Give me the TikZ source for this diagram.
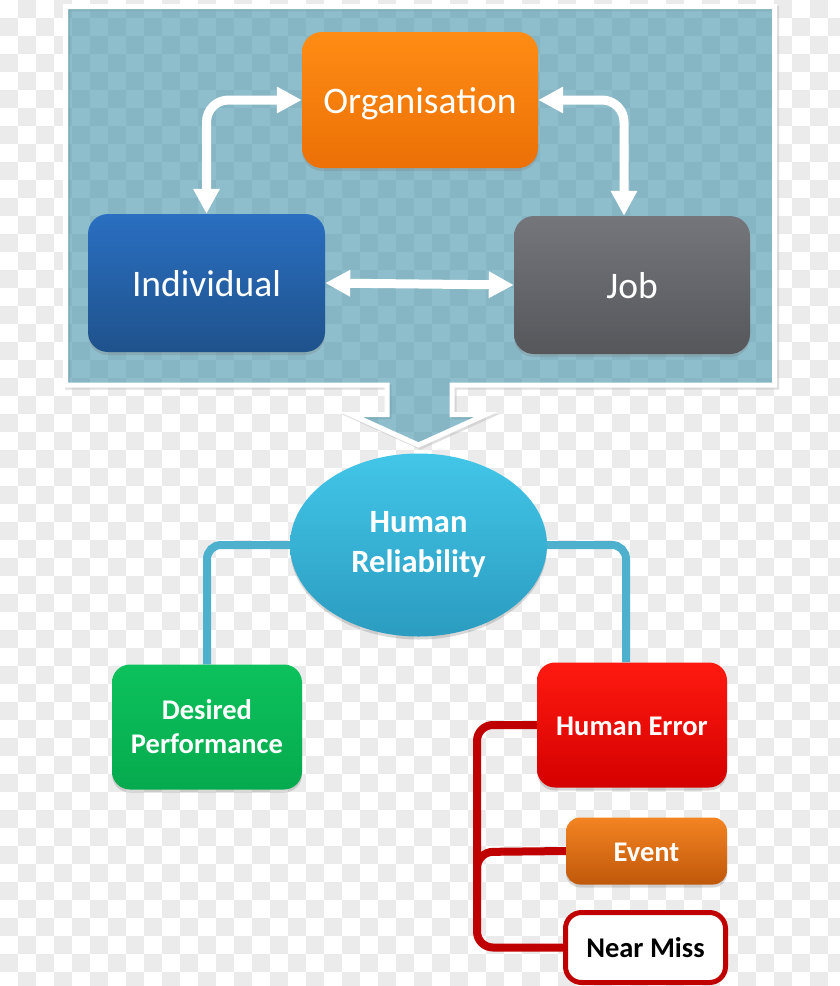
\documentclass[tikz,border=0pt]{standalone}
\usepackage{fontspec}
\setmainfont{Carlito}
\usetikzlibrary{arrows.meta,shadows,shapes.geometric,calc}
\pgfdeclarelayer{bg}
\pgfdeclarelayer{mid}
\pgfsetlayers{bg,mid,main}
\definecolor{checkgray}{HTML}{EBEBEB}
\definecolor{panelteal}{RGB}{68,148,170}
\definecolor{orgtop}{HTML}{FF8C14}
\definecolor{orgbot}{HTML}{EC7006}
\definecolor{indtop}{HTML}{2A6FC1}
\definecolor{indbot}{HTML}{1F528C}
\definecolor{jobtop}{HTML}{75767B}
\definecolor{jobbot}{HTML}{56575B}
\definecolor{hrtop}{HTML}{42C6E8}
\definecolor{hrbot}{HTML}{2B9CC0}
\definecolor{dptop}{HTML}{0CC25C}
\definecolor{dpbot}{HTML}{06AA4E}
\definecolor{hetop}{HTML}{FF1A10}
\definecolor{hebot}{HTML}{D40000}
\definecolor{evtop}{HTML}{F48422}
\definecolor{evbot}{HTML}{C0580A}
\definecolor{darkred}{HTML}{C00000}
\definecolor{linkteal}{HTML}{4DB1CD}
\tikzset{
  softshadow/.style={drop shadow={shadow xshift=0pt,shadow yshift=-3pt,opacity=0.3}},
  topbox/.style={rectangle,rounded corners=20pt,inner sep=0pt,text=white,
    text height=27pt,text depth=0pt,
    font=\fontsize{37.5}{40}\selectfont,softshadow},
  lowbox/.style={rectangle,rounded corners=18pt,inner sep=0pt,text=white,align=center,
    font=\bfseries\fontsize{28.5}{34}\selectfont,softshadow},
  oneline/.style={text height=20pt,text depth=0pt},
  whitearrow/.style={draw=white,line width=9pt,rounded corners=22pt,
    {Triangle[width=25pt,length=25pt]}-{Triangle[width=25pt,length=25pt]}},
  tealline/.style={draw=linkteal,line width=8pt,rounded corners=14pt},
  redline/.style={draw=darkred,line width=8pt,rounded corners=16pt}
}
\begin{document}
\begin{tikzpicture}[x=1pt,y=-1pt]
\useasboundingbox (0,0) rectangle (840,986);
\begin{pgfonlayer}{bg}
% checkerboard background
\begin{scope}
\clip (0,0) rectangle (840,986);
\fill[white] (0,0) rectangle (840,986);
\foreach \i in {0,2,...,46}{
  \foreach \j in {0,2,...,54}{
    \fill[checkgray] (\i*18+18,\j*18) rectangle ++(18,18);
    \fill[checkgray] (\i*18,\j*18+18) rectangle ++(18,18);
  }
}
\end{scope}
% panel with arrow
\draw[black!25,line width=5pt,line join=miter,opacity=0.5,xshift=2pt,yshift=-2pt]
  (65.5,6.5) -- (774.5,6.5) -- (774.5,385) -- (452,385) -- (452,414.5) -- (486,414.5)
  -- (418.5,445) -- (351,414.5) -- (387,414.5) -- (387,385) -- (65.5,385) -- cycle;
\fill[panelteal,fill opacity=0.6]
  (65.5,6.5) -- (774.5,6.5) -- (774.5,385) -- (452,385) -- (452,414.5) -- (486,414.5)
  -- (418.5,445) -- (351,414.5) -- (387,414.5) -- (387,385) -- (65.5,385) -- cycle;
\draw[white,line width=5pt,line join=miter]
  (65.5,6.5) -- (774.5,6.5) -- (774.5,385) -- (452,385) -- (452,414.5) -- (486,414.5)
  -- (418.5,445) -- (351,414.5) -- (387,414.5) -- (387,385) -- (65.5,385) -- cycle;
\end{pgfonlayer}
% top nodes
\node[topbox,minimum width=236pt,minimum height=136pt,top color=orgtop,bottom color=orgbot]
  (org) at (420,100) {Organisation};
\node[topbox,minimum width=237pt,minimum height=138pt,top color=indtop,bottom color=indbot]
  (ind) at (206.5,283) {Individual};
\node[topbox,minimum width=236pt,minimum height=138pt,top color=jobtop,bottom color=jobbot]
  (job) at (632,285) {Job};
% white arrows
\draw[whitearrow] (org.west) -| (ind.north);
\draw[whitearrow] (org.east) -| ([xshift=-8pt]job.north);
\draw[whitearrow,rounded corners=0pt] (ind.east) -- (job.west);
% lower nodes
\node[lowbox,minimum width=190pt,minimum height=125pt,top color=dptop,bottom color=dpbot]
  (dp) at (207,727) {Desired\\Performance};
\node[lowbox,oneline,minimum width=190pt,minimum height=125pt,top color=hetop,bottom color=hebot]
  (he) at (632,725) {Human Error};
\node[lowbox,oneline,rounded corners=14pt,minimum width=161pt,minimum height=67pt,top color=evtop,bottom color=evbot]
  (ev) at (646.5,851) {Event};
\node[rectangle,oneline,rounded corners=16pt,inner sep=0pt,minimum width=160pt,minimum height=70pt,fill=white,
  draw=darkred,line width=5pt,text=black,font=\bfseries\fontsize{28.5}{34}\selectfont]
  (nm) at (645.5,947.5) {Near Miss};
\node[ellipse,minimum width=257pt,minimum height=183pt,inner sep=0pt,align=center,
  top color=hrtop,bottom color=hrbot,text=white,softshadow,
  font=\bfseries\fontsize{32.5}{40}\selectfont]
  (hr) at (418.5,545) {Human\\Reliability};
% connectors behind nodes
\begin{pgfonlayer}{mid}
\draw[tealline] (hr.west) -| (dp.north);
\draw[tealline] (hr.east) -| ([xshift=-6pt]he.north);
\coordinate (rv) at (477,852);
\draw[redline] (he.west) -| (rv) |- (nm.west);
\draw[redline] ([yshift=-30pt]rv) -- (rv) -- (ev.west);
\end{pgfonlayer}
\end{tikzpicture}
\end{document}
